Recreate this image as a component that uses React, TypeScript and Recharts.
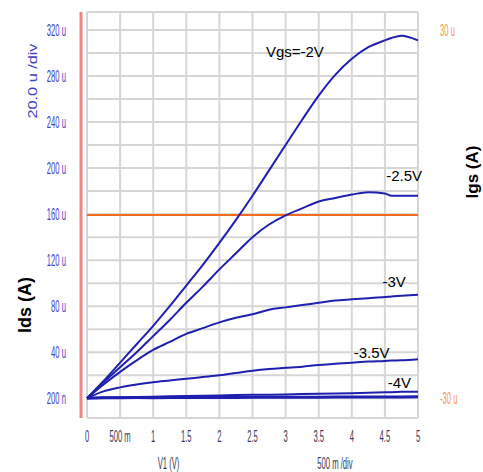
import { LineChart, Line, XAxis, YAxis, CartesianGrid, ReferenceDot } from 'recharts'

const vds = [0, 0.25, 0.5, 0.75, 1, 1.25, 1.5, 1.75, 2, 2.25, 2.5, 2.75, 3, 3.25, 3.5, 3.75, 4, 4.25, 4.5, 4.6, 4.75, 5]

// drain current in uA, one list per Vgs
const idsVgs2 = [0, 15, 31, 47, 63, 80, 98, 116, 135, 155, 176, 198, 220, 242, 263, 281, 295, 305, 311, 313, 315, 311]
const idsVgs25 = [0, 14, 27, 40, 54, 68, 83, 97, 112, 126, 140, 151, 159, 165, 171, 174, 177, 179, 178, 176, 176, 176]
const idsVgs3 = [0, 12, 23, 33, 42, 49, 56, 61, 66, 70, 73, 77, 79, 81, 83, 85, 86, 87, 88, 88.5, 89, 90]
const idsVgs35 = [0, 6, 9.5, 12, 14, 15.5, 17, 18.5, 20, 22, 24, 25.5, 26.5, 27.5, 29, 30, 31, 32, 32.5, 32.8, 33, 34]
const idsVgs4 = [0, 0.8, 1, 1.2, 1.4, 1.8, 2, 2.2, 2.4, 2.8, 3, 3.2, 3.4, 3.8, 4, 4.2, 4.4, 4.9, 5.2, 5.3, 5.6, 5.8]
const idsVgs45 = [0, 0.4, 0.5, 0.6, 0.6, 0.7, 0.7, 0.8, 0.8, 0.8, 0.9, 0.9, 1, 1, 1, 1.1, 1.1, 1.1, 1.2, 1.2, 1.2, 1.3]

// gate current in uA (right axis)
const igs = [-0.15, -0.15, -0.15, -0.15, -0.15, -0.15, -0.15, -0.15, -0.15, -0.15, -0.15, -0.15, -0.15, -0.15, -0.15, -0.15, -0.15, -0.15, -0.15, -0.15, -0.15, -0.15]

const xTicks = [0, 0.5, 1, 1.5, 2, 2.5, 3, 3.5, 4, 4.5, 5]
const leftTicks = [-17.1, 0, 20, 40, 60, 80, 100, 120, 140, 160, 180, 200, 220, 240, 260, 280, 300, 320, 335.6]
const rightTicks = [-30, 30]

const curveLabels = [
  { text: 'Vgs=-2V', x: 3.14, y: 301 },
  { text: '-2.5V', x: 4.79, y: 193 },
  { text: '-3V', x: 4.64, y: 101 },
  { text: '-3.5V', x: 4.3, y: 40 },
  { text: '-4V', x: 4.72, y: 14 },
]

const data = vds.map((v, i) => ({
  v,
  g2: idsVgs2[i],
  g25: idsVgs25[i],
  g3: idsVgs3[i],
  g35: idsVgs35[i],
  g4: idsVgs4[i],
  g45: idsVgs45[i],
  igs: igs[i],
}))

const FONT = "'Liberation Sans', Arial, sans-serif"
const BLUE = '#1f1fb0'

function leftLabel(v: number) {
  if (v === 0) return '200 n'
  if (v > 0 && v % 40 === 0) return `${v} u`
  return ''
}

function xLabel(v: number) {
  if (v === 0.5) return '500 m'
  return String(v)
}

function LeftTick({ x, y, payload }: any) {
  const label = leftLabel(payload.value)
  if (!label) return <g />
  return (
    <text transform={`translate(${x - 21},${y}) scale(0.45,1)`} textAnchor="end" dominantBaseline="central"
      fontSize={17} fontFamily={FONT} fill="#4343c6">{label}</text>
  )
}

function RightTick({ x, y, payload }: any) {
  return (
    <text transform={`translate(${x + 22},${y}) scale(0.45,1)`} textAnchor="start" dominantBaseline="central"
      fontSize={17} fontFamily={FONT} fill="#f7964f">{`${payload.value} u`}</text>
  )
}

function BottomTick({ x, y, payload }: any) {
  return (
    <text transform={`translate(${x},${y + 18.5}) scale(0.45,1)`} textAnchor="middle" dominantBaseline="central"
      fontSize={17} fontFamily={FONT} fill="#3a3a58">{xLabel(payload.value)}</text>
  )
}

export default function App() {
  return (
    <div style={{ position: 'absolute', left: 0, top: 0, width: 483, height: 472, background: '#fff' }}>
      <LineChart width={483} height={472} data={data} margin={{ top: 12, right: 25, bottom: 24, left: 27 }}>
        <CartesianGrid yAxisId="left" stroke="#d6d6d6" strokeWidth={2} />
        <XAxis dataKey="v" type="number" domain={[0, 5]} ticks={xTicks} interval={0}
          axisLine={false} tickLine={false} tickSize={0} tickMargin={0} height={30} tick={<BottomTick />} />
        <YAxis yAxisId="left" type="number" domain={[-17.1, 335.6]} ticks={leftTicks} interval={0}
          axisLine={false} tickLine={false} tickSize={0} tickMargin={0} width={60} tick={<LeftTick />} />
        <YAxis yAxisId="right" orientation="right" type="number" domain={[-33.21, 32.93]} ticks={rightTicks}
          interval={0} axisLine={false} tickLine={false} tickSize={0} tickMargin={0} width={40} tick={<RightTick />} />
        <Line yAxisId="right" dataKey="igs" stroke="#f26a1b" strokeWidth={2} dot={false} isAnimationActive={false} />
        <Line yAxisId="left" dataKey="g45" stroke={BLUE} strokeWidth={3} dot={false} isAnimationActive={false} />
        <Line yAxisId="left" dataKey="g4" stroke={BLUE} strokeWidth={2} dot={false} isAnimationActive={false} />
        <Line yAxisId="left" type="monotone" dataKey="g35" stroke={BLUE} strokeWidth={2} dot={false} isAnimationActive={false} />
        <Line yAxisId="left" type="monotone" dataKey="g3" stroke={BLUE} strokeWidth={2} dot={false} isAnimationActive={false} />
        <Line yAxisId="left" type="monotone" dataKey="g25" stroke={BLUE} strokeWidth={2} dot={false} isAnimationActive={false} />
        <Line yAxisId="left" type="monotone" dataKey="g2" stroke={BLUE} strokeWidth={2} dot={false} isAnimationActive={false} />
        {curveLabels.map(l => (
          <ReferenceDot key={l.text} yAxisId="left" x={l.x} y={l.y} r={0} stroke="none" fill="none"
            label={{ value: l.text, position: 'center', fill: '#000', fontSize: 15, fontFamily: FONT }} />
        ))}
      </LineChart>
      <svg width={483} height={472} style={{ position: 'absolute', left: 0, top: 0, pointerEvents: 'none' }}>
        <line x1={81} y1={12} x2={81} y2={418} stroke="#f08585" strokeWidth={3} />
        <text transform="translate(37,81) rotate(-90)" textAnchor="middle" fontSize={13} fontFamily={FONT}
          fill="#4343c6" textLength={75} lengthAdjust="spacingAndGlyphs">20.0 u /div</text>
        <text transform="translate(31,305) rotate(-90)" textAnchor="middle" fontSize={18} fontWeight="bold"
          fontFamily={FONT} fill="#000">Ids (A)</text>
        <text transform="translate(478,172) rotate(-90)" textAnchor="middle" fontSize={17} fontWeight="bold"
          fontFamily={FONT} fill="#000">Igs (A)</text>
        <text transform="translate(168.5,469) scale(0.45,1)" textAnchor="middle" fontSize={17} fontFamily={FONT}
          fill="#3a3a58">V1 (V)</text>
        <text transform="translate(335,469) scale(0.45,1)" textAnchor="middle" fontSize={17} fontFamily={FONT}
          fill="#3a3a58">500 m /div</text>
      </svg>
    </div>
  )
}
